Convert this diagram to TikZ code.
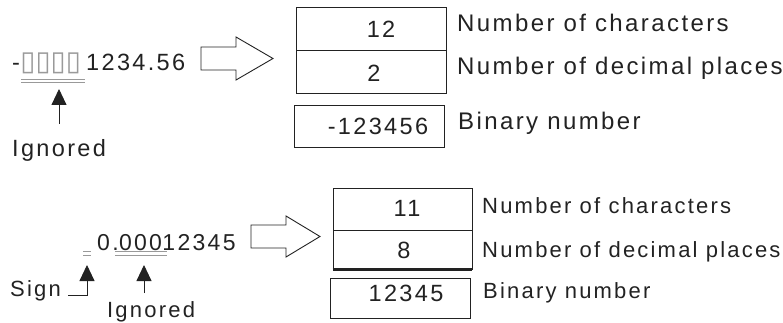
\documentclass[tikz,border=0pt]{standalone}
\usepackage{fontspec}
\setmainfont{Liberation Sans}[LetterSpace=10]
\newfontfamily\symfont{DejaVu Sans}
\usetikzlibrary{arrows.meta}
\definecolor{ink}{HTML}{222222}
\definecolor{uline}{HTML}{999999}
\definecolor{tofu}{HTML}{9A9A9A}
\begin{document}
\begin{tikzpicture}[x=1pt,y=-1pt,
  txt/.style={inner sep=0pt, text=ink, font=\fontsize{23.5}{28}\selectfont},
  lbl/.style={txt, anchor=base west},
  lblbig/.style={lbl, font=\fontsize{24}{28}\selectfont},
  lblsm/.style={lbl, font=\fontsize{22}{26}\selectfont},
  lblmid/.style={lbl, font=\fontsize{23}{27}\selectfont},
  box/.style={draw=ink, line width=0.9pt, minimum width=150pt, minimum height=43pt, inner sep=0pt},
  num/.style={txt, anchor=base},
  bigarrow/.style={draw=ink, line width=0.9pt, fill=white, line join=miter},
  ul/.style={draw=uline, line width=1.1pt},
  pointer/.style={draw=ink, line width=0.9pt, -{Triangle[length=16pt,width=15pt]}},
]
\useasboundingbox (0,0) rectangle (783,323);

% ---------- top example ----------
\node[lbl] (minus1) at (12,71) {-};
\node[lbl] (blank1) at (minus1.base east) {\symfont\fontsize{27.5}{30}\selectfont\color{tofu}▯▯▯▯};
\node[lbl] (dig1) at (86,71) {1234.56};
\coordinate (u1a) at (21,79.3);
\coordinate (u1b) at (85,79.3);
\coordinate (u1c) at (21,82.8);
\coordinate (u1d) at (85,82.8);
\draw[ul] (u1a) -- (u1b);
\draw[ul] (u1c) -- (u1d);
\node[lbl] (ign1) at (12,157) {Ignored};
\coordinate (p1tail) at (59,124);
\coordinate (p1tip) at (59,89);
\draw[pointer] (p1tail) -- (p1tip);

\draw[bigarrow] (201,47) -- (236,47) -- (236,37) -- (273,58.5) -- (236,80) -- (236,70) -- (201,70) -- cycle;

\node[box] (t1) at (371,28.5) {};
\node[box] (t2) at (371,71.5) {};
\node[box, minimum height=42pt] (t3) at (369,126) {};
\node[num] (t1n) at (381,38) {12};
\node[num] (t2n) at (374,81.5) {2};
\node[num] (t3n) at (378,134.5) {-123456};
\node[lblbig] (t1l) at (457,31.7) {Number of characters};
\node[lblbig] (t2l) at (457,75) {Number of decimal places};
\node[lblbig] (t3l) at (458,130) {Binary number};

% ---------- bottom example ----------
\node[lblmid] (z0) at (97,250) {0.};
\node[lblmid] (z1) at (z0.base east) {000};
\node[lblmid] (z2) at (z1.base east) {12345};
\draw[ul] (83,251.5) -- (91,251.5);
\draw[ul] (83,255.2) -- (91,255.2);
\draw[ul] (115,251.5) -- (167,251.5);
\draw[ul] (115,255.2) -- (167,255.2);
\node[lblsm] (sign) at (10,296) {Sign};
\node[lblsm] (ign2) at (107,317) {Ignored};
\coordinate (p2tail) at (68,295);
\coordinate (p2tip) at (87,265);
\draw[pointer] (p2tail) -| (p2tip);
\coordinate (p3tail) at (144,293);
\coordinate (p3tip) at (144,265);
\draw[pointer] (p3tail) -- (p3tip);

\draw[bigarrow] (251,225) -- (286,225) -- (286,216) -- (320,236.5) -- (286,257) -- (286,248) -- (251,248) -- cycle;

\node[box, minimum width=139pt, minimum height=42pt] (b1) at (402.5,209) {};
\node[box, minimum width=139pt, minimum height=39pt] (b2) at (402.5,249.5) {};
\draw[ink, line width=2.2pt] (b2.south west) -- (b2.south east);
\node[box, minimum width=140pt, minimum height=40pt] (b3) at (400,298) {};
\node[num] (b1n) at (407,216) {11};
\node[num] (b2n) at (404,258) {8};
\node[num] (b3n) at (406,301) {12345};
\node[lblsm] (b1l) at (482,213) {Number of characters};
\node[lblsm] (b2l) at (482,257.5) {Number of decimal places};
\node[lblsm] (b3l) at (483,298) {Binary number};
\end{tikzpicture}
\end{document}
